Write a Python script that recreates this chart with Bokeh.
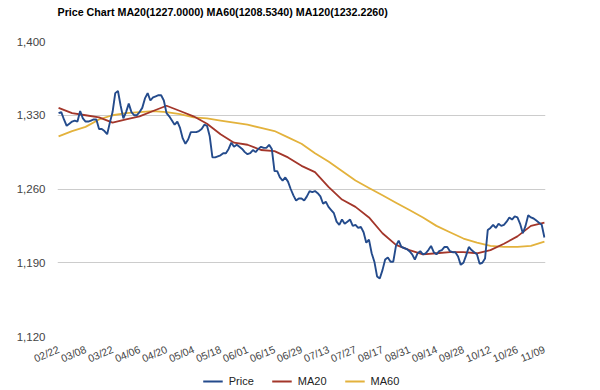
from bokeh.plotting import figure
from bokeh.layouts import column
from bokeh.models import Range1d, Legend, LegendItem, FixedTicker, NumeralTickFormatter
from bokeh.embed import file_html
from bokeh.resources import INLINE

TITLE = "Price Chart MA20(1227.0000) MA60(1208.5340) MA120(1232.2260)"

date_labels = ["02/22", "03/08", "03/22", "04/06", "04/20", "05/04", "05/18", "06/01",
               "06/15", "06/29", "07/13", "07/27", "08/17", "08/31", "09/14", "09/28",
               "10/12", "10/26", "11/09"]
y_ticks = [1120, 1190, 1260, 1330, 1400]

# daily closing price (one value per trading day)
price = [
    1332, 1333, 1326, 1320, 1322, 1324, 1325, 1324, 1334, 1327,
    1324, 1324, 1325, 1326, 1326, 1317, 1317, 1315, 1312, 1323,
    1333, 1351, 1353, 1339, 1327, 1333, 1341, 1333, 1330, 1330,
    1333, 1337, 1346, 1351, 1344, 1347, 1348, 1349, 1349, 1344,
    1332, 1329, 1325, 1321, 1324, 1318, 1308, 1303, 1307, 1314,
    1314, 1314, 1315, 1317, 1321, 1320, 1310, 1290, 1290, 1291,
    1292, 1294, 1294, 1298, 1304, 1300, 1302, 1300, 1298, 1295,
    1293, 1294, 1297, 1295, 1298, 1300, 1299, 1299, 1302, 1298,
    1277, 1277, 1271, 1268, 1271, 1267, 1260, 1254, 1249, 1251,
    1251, 1249, 1253, 1258, 1257, 1258, 1256, 1253, 1246, 1248,
    1243, 1240, 1237, 1229, 1226, 1231, 1227, 1229, 1231, 1225,
    1226, 1223, 1224, 1219, 1209, 1212, 1199, 1191, 1177, 1175,
    1183, 1193, 1195, 1191, 1191, 1206, 1211, 1205, 1204, 1203,
    1201, 1198, 1193, 1199, 1201, 1198, 1199, 1202, 1206, 1200,
    1198, 1201, 1202, 1205, 1205, 1201, 1200, 1200, 1196, 1188,
    1190, 1197, 1205, 1202, 1200, 1198, 1189, 1190, 1194, 1221,
    1223, 1226, 1223, 1227, 1225, 1226, 1229, 1233, 1231, 1234,
    1233, 1227, 1218, 1225, 1235, 1233, 1232, 1230, 1228, 1226,
    1214,
]

# moving averages, read every 5 trading days
ma_step = 5
ma20 = [1337, 1332, 1330, 1328, 1323, 1326, 1329, 1334, 1339, 1334,
        1329, 1322, 1312, 1304, 1302, 1297, 1296, 1290, 1282, 1276,
        1262, 1250, 1243, 1233, 1218, 1207, 1202, 1198, 1199, 1200,
        1200, 1199, 1202, 1208, 1215, 1225, 1228]
ma60 = [1310, 1315, 1319, 1326, 1330, 1332, 1333, 1334, 1333, 1331,
        1328, 1327, 1325, 1323, 1321, 1318, 1315, 1309, 1303, 1294,
        1286, 1277, 1268, 1261, 1254, 1247, 1240, 1233, 1225, 1219,
        1213, 1209, 1206, 1205, 1205, 1206, 1210]

series_names = ["Price", "MA20", "MA60"]
price_color = "#244b8c"
ma20_color = "#a3362a"
ma60_color = "#e3b23c"
font = "Liberation Sans"

x_price = list(range(len(price)))
x_ma = [i * ma_step for i in range(len(ma20))]

# title strip
tf = figure(width=600, height=26, output_backend="svg", toolbar_location=None,
            x_range=Range1d(0, 1), y_range=Range1d(0, 1),
            min_border_left=57, min_border_right=0, min_border_top=0, min_border_bottom=0)
tf.axis.visible = False
tf.grid.visible = False
tf.outline_line_color = None
tf.title.text = TITLE
tf.title.text_font = font
tf.title.text_font_size = "10.7px"
tf.title.text_font_style = "bold"
tf.title.text_color = "#000000"
tf.title.align = "left"
tf.title.standoff = 6

p = figure(width=600, height=346, output_backend="svg", toolbar_location=None,
           x_range=Range1d(-0.4, 180.4), y_range=Range1d(1120, 1400),
           min_border_left=57, min_border_right=55, min_border_top=15, min_border_bottom=35)
p.title.text = ""

p.outline_line_color = None
p.background_fill_color = "white"
p.border_fill_color = "white"

p.xgrid.grid_line_color = None
p.ygrid.grid_line_color = "#cccccc"
p.ygrid.grid_line_width = 1

p.yaxis.ticker = FixedTicker(ticks=y_ticks)
p.yaxis.formatter = NumeralTickFormatter(format="0,0")
p.yaxis.axis_line_color = None
p.yaxis.major_tick_line_color = None
p.yaxis.minor_tick_line_color = None
p.yaxis.major_tick_out = 0
p.yaxis.major_tick_in = 0
p.yaxis.major_label_standoff = 12
p.yaxis.major_label_text_font = font
p.yaxis.major_label_text_font_size = "11.5px"
p.yaxis.major_label_text_color = "#444444"

tick_pos = [i * 10 for i in range(len(date_labels))]
p.xaxis.ticker = FixedTicker(ticks=tick_pos)
p.xaxis.major_label_overrides = {t: lab for t, lab in zip(tick_pos, date_labels)}
p.xaxis.axis_line_color = None
p.xaxis.major_tick_line_color = None
p.xaxis.minor_tick_line_color = None
p.xaxis.major_tick_out = 0
p.xaxis.major_tick_in = 0
p.xaxis.major_label_standoff = 12
p.xaxis.major_label_orientation = 0.4
p.xaxis.major_label_text_font = font
p.xaxis.major_label_text_font_size = "10.5px"
p.xaxis.major_label_text_color = "#444444"

p.line(x_ma, ma60, line_color=ma60_color, line_width=1.8)
p.line(x_ma, ma20, line_color=ma20_color, line_width=1.8)
p.line(x_price, price, line_color=price_color, line_width=1.9)

# legend strip below the chart (its sample lines lie outside the strip's visible range)
lg = figure(width=600, height=18, output_backend="svg", toolbar_location=None,
            x_range=Range1d(0, 1), y_range=Range1d(0, 1),
            min_border_left=0, min_border_right=0, min_border_top=0, min_border_bottom=0)
lg.axis.visible = False
lg.grid.visible = False
lg.outline_line_color = None
items = []
for name, col in zip(series_names, [price_color, ma20_color, ma60_color]):
    r = lg.line([5, 6], [5, 6], line_color=col, line_width=1.8)
    items.append(LegendItem(label=name, renderers=[r]))
legend = Legend(items=items, orientation="horizontal", location="center",
                border_line_color=None, background_fill_alpha=0,
                label_text_font=font, label_text_font_size="11px",
                label_text_color="#222222",
                glyph_width=20, glyph_height=12, label_height=12,
                padding=0, margin=0, spacing=18, label_standoff=6)
lg.add_layout(legend)

layout = column(tf, p, lg, spacing=0)
open("out.html", "w").write(file_html(layout, INLINE))
